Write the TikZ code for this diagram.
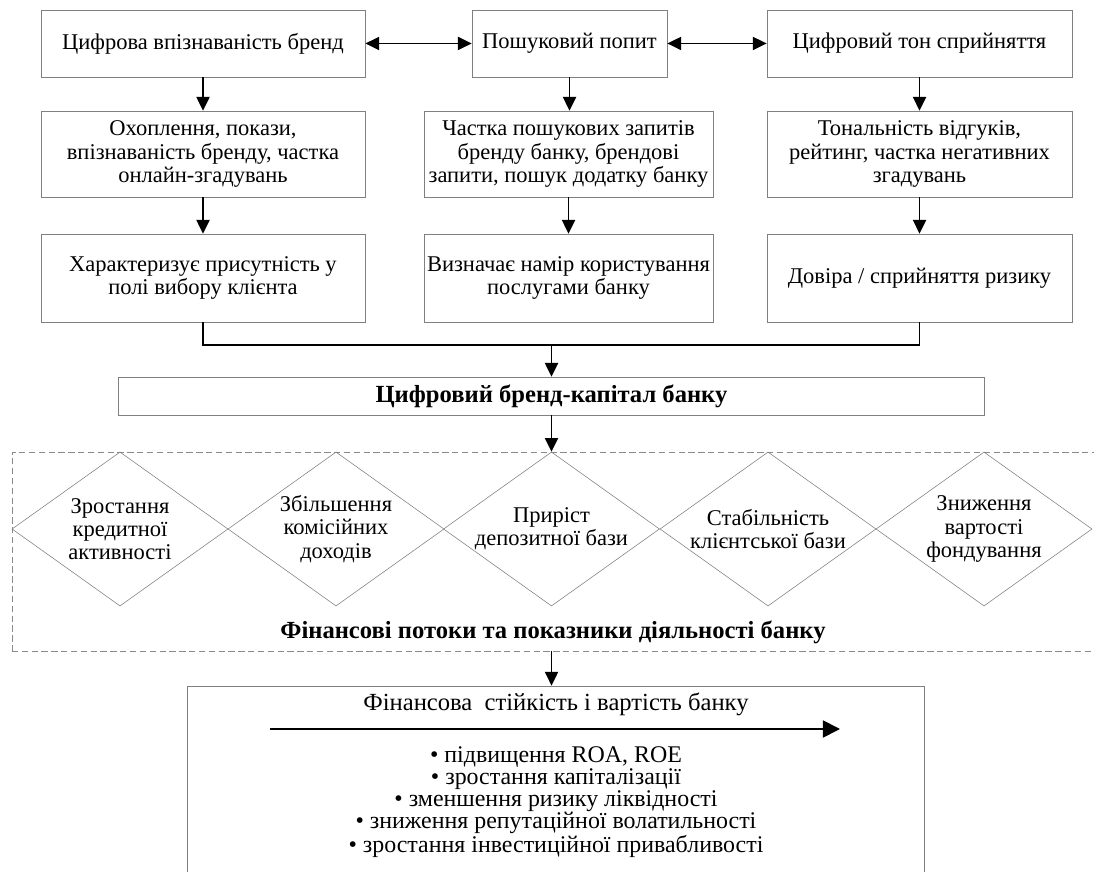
\documentclass[tikz,border=0pt]{standalone}
\usepackage{fontspec}
\setmainfont{Liberation Serif}
\usetikzlibrary{arrows.meta,positioning,shapes.geometric}
\definecolor{ink}{HTML}{000000}
\definecolor{boxgray}{HTML}{808080}
\definecolor{dashgray}{HTML}{8A8A8A}

\begin{document}
\begin{tikzpicture}[x=0.025cm,y=-0.025cm,
  font=\fontsize{16}{16.5}\selectfont,
  box/.style={draw=boxgray,line width=0.6pt,align=center,inner sep=1pt},
  rhomb/.style={diamond,draw=boxgray,line width=0.4pt,aspect=1.4,inner sep=0pt,
                minimum width=5.4cm,minimum height=3.85cm,align=center},
  heading/.style={font=\fontsize{17.5}{18}\selectfont\bfseries},
  link/.style={line width=0.9pt,draw=ink},
  arr/.style={link,-{Triangle[length=3.4mm,width=3.3mm]}},
  biarr/.style={link,{Triangle[length=3.4mm,width=3.3mm]}-{Triangle[length=3.4mm,width=3.3mm]}},
  bigarr/.style={line width=1.3pt,draw=ink,-{Triangle[length=4.3mm,width=4.3mm]}}]
\useasboundingbox (0,0) rectangle (1094,872);
\clip (0,0) rectangle (1094,872);

% three digital brand components
\node[box,minimum width=8.1cm,minimum height=1.675cm] (brand) at (203,43.5) {Цифрова впізнаваність бренд};
\node[box,minimum width=4.875cm,minimum height=1.675cm] (search) at (569.5,43.5) {Пошуковий попит};
\node[box,minimum width=7.625cm,minimum height=1.675cm] (tone) at (919.5,43.5) {Цифровий тон сприйняття};

\node[box,minimum width=8.1cm,minimum height=2.15cm] (reach) at (203,154)
  {Охоплення, покази,\\впізнаваність бренду, частка\\онлайн-згадувань};
\node[box,minimum width=7.225cm,minimum height=2.15cm] (queries) at (568.5,154)
  {Частка пошукових запитів\\бренду банку, брендові\\запити, пошук додатку банку};
\node[box,minimum width=7.625cm,minimum height=2.15cm] (reviews) at (919.5,154)
  {Тональність відгуків,\\рейтинг, частка негативних\\згадувань};

\node[box,minimum width=8.1cm,minimum height=2.2cm] (presence) at (203,278)
  {Характеризує присутність у\\полі вибору клієнта};
\node[box,minimum width=7.225cm,minimum height=2.2cm] (intent) at (568.5,278)
  {Визначає намір користування\\послугами банку};
\node[box,minimum width=7.625cm,minimum height=2.2cm] (trust) at (919.5,278)
  {Довіра / сприйняття ризику};

\draw[biarr] (brand.east) -- (search.west);
\draw[biarr] (search.east) -- (tone.west);
\draw[arr] (brand) -- (reach);
\draw[arr] (search.south) -- (search.south |- queries.north);
\draw[arr] (tone) -- (reviews);
\draw[arr] (reach) -- (presence);
\draw[arr] (queries) -- (intent);
\draw[arr] (reviews) -- (trust);

% brand capital
\coordinate (join) at (551.5,345);
\node[box,heading,minimum width=21.625cm,minimum height=0.95cm] (capital) at (551.5,396)
  {Цифровий бренд-капітал банку};
\draw[link] (presence.south) |- (join) -| (trust.south);
\draw[arr] (join) -- (capital.north);

% financial flows
\node[draw=dashgray,line width=0.5pt,dash pattern=on 4.5pt off 2.5pt,
      minimum width=27.45cm,minimum height=4.975cm] (flows) at (561,551.5) {};
\node[rhomb] (credit) at (120,529) {Зростання\\кредитної\\активності};
\node[rhomb] (fees) at (336,529) {Збільшення\\комісійних\\доходів};
\node[rhomb] (deposits) at (551.5,529) {Приріст\\депозитної бази};
\node[rhomb] (clients) at (768,529) {Стабільність\\клієнтської бази};
\node[rhomb] (funding) at (984,529) {Зниження\\вартості\\фондування};
\node[heading] (flowstitle) at (553,632) {Фінансові потоки та показники діяльності банку};
\draw[arr] (capital.south) -- (deposits.north);

% result
\node[box,minimum width=18.4cm,minimum height=5cm] (result) at (556,786) {};
\node[font=\fontsize{17.5}{17.5}\selectfont] (resulttitle) at (556,704) {Фінансова\ \ стійкість і вартість банку};
\coordinate (growa) at (270,729);
\coordinate (growb) at (840,729);
\draw[bigarr] (growa) -- (growb);
\node[align=center,font=\fontsize{17}{15.8}\selectfont] (gains) at (556,802)
  {• підвищення ROA, ROE\\• зростання капіталізації\\• зменшення ризику ліквідності\\%
   • зниження репутаційної волатильності\\• зростання інвестиційної привабливості};
\draw[arr] (flows.south -| capital.south) -- (result.north -| capital.south);
\end{tikzpicture}
\end{document}
